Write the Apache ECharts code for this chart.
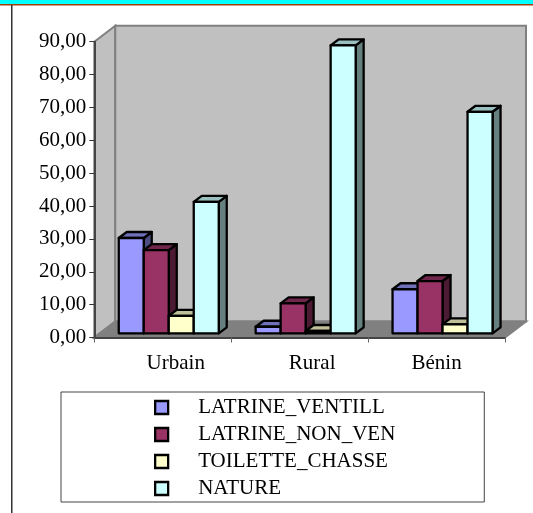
<!DOCTYPE html>
<html>
<head>
<meta charset="utf-8">
<style>
  html, body { margin: 0; padding: 0; background: #fff; }
  #chart { width: 533px; height: 513px; }
</style>
<script src="https://cdn.jsdelivr.net/npm/echarts@6/dist/echarts.min.js"></script>
</head>
<body>
<div id="chart"></div>
<script>
const categories = ['Urbain', 'Rural', 'Bénin']
const seriesNames = ['LATRINE_VENTILL', 'LATRINE_NON_VEN', 'TOILETTE_CHASSE', 'NATURE']
const latrineVentill = [29.0, 2.0, 13.4]
const latrineNonVen = [25.3, 9.1, 15.9]
const toiletteChasse = [5.3, 0.7, 2.7]
const nature = [40.0, 87.6, 67.4]
const seriesValues = [latrineVentill, latrineNonVen, toiletteChasse, nature]
const frontColors = ['#9999ff', '#993366', '#ffffcc', '#ccffff']
const topColors = ['#7070bb', '#70254b', '#bfbf99', '#99bfbf']
const sideColors = ['#4d4d80', '#4d1a33', '#808066', '#668080']

const barWidth = 25
// chart depth of the walls and of one bar, in pixels
const wall = { dx: 21, dy: 16 }
const bar = { dx: 8, dy: 6, x: 6, y: -4.2 }
// the labels are not centred on their bands in the original
const labelPadLeft = [26, 25, 0]

const chart = echarts.init(document.getElementById('chart'))

function renderWalls(params, api) {
  const g = params.coordSys
  const left = g.x
  const right = g.x + g.width
  const top = g.y
  const bottom = g.y + g.height
  const poly = (points, fill, stroke) => ({
    type: 'polygon',
    shape: { points: points },
    style: { fill: fill, stroke: stroke, lineWidth: 2 }
  })
  return {
    type: 'group',
    children: [
      poly([[left, top], [left + wall.dx, top - wall.dy], [left + wall.dx, bottom - wall.dy], [left, bottom]], '#c0c0c0', '#808080'),
      poly([[left + wall.dx, top - wall.dy], [right + wall.dx, top - wall.dy], [right + wall.dx, bottom - wall.dy], [left + wall.dx, bottom - wall.dy]], '#c0c0c0', '#808080'),
      poly([[left, bottom], [left + wall.dx, bottom - wall.dy], [right + wall.dx, bottom - wall.dy], [right, bottom]], '#808080', '#808080')
    ]
  }
}

function renderBar(index) {
  return function (params, api) {
    const top = api.coord([api.value(0), api.value(1)])
    const base = api.coord([api.value(0), 0])
    const x0 = top[0] + bar.x + (index - 2) * barWidth
    const x1 = x0 + barWidth
    const y0 = top[1] + bar.y
    const y1 = base[1] + bar.y
    const style = (fill) => ({ fill: fill, stroke: '#000', lineWidth: 2.3, lineJoin: 'round' })
    return {
      type: 'group',
      children: [
        {
          type: 'polygon',
          shape: { points: [[x1, y0], [x1 + bar.dx, y0 - bar.dy], [x1 + bar.dx, y1 - bar.dy], [x1, y1]] },
          style: style(sideColors[index])
        },
        {
          type: 'polygon',
          shape: { points: [[x0, y0], [x0 + bar.dx, y0 - bar.dy], [x1 + bar.dx, y0 - bar.dy], [x1, y0]] },
          style: style(topColors[index])
        },
        {
          type: 'rect',
          shape: { x: x0, y: y0, width: barWidth, height: y1 - y0 },
          style: style(frontColors[index])
        }
      ]
    }
  }
}

const barSeries = seriesNames.map((name, i) => ({
  name: name,
  type: 'custom',
  renderItem: renderBar(i),
  itemStyle: { color: frontColors[i] },
  encode: { x: 0, y: 1 },
  data: categories.map((c, j) => [c, seriesValues[i][j]])
}))

chart.setOption({
  animation: false,
  backgroundColor: '#fff',
  textStyle: { fontFamily: 'Liberation Serif' },
  graphic: [
    { type: 'rect', shape: { x: 0, y: 0, width: 533, height: 4 }, style: { fill: '#00ffff' } },
    { type: 'rect', shape: { x: 0, y: 4, width: 533, height: 1.5 }, style: { fill: '#a83c0c' } },
    { type: 'rect', shape: { x: 11, y: 5, width: 1.5, height: 508 }, style: { fill: '#333' } }
  ],
  grid: { left: 94.3, right: 28, top: 41.7, bottom: 175.5 },
  legend: {
    left: 61,
    top: 392,
    orient: 'vertical',
    data: seriesNames.map((name, i) => ({
      name: name,
      icon: 'rect',
      itemStyle: { color: frontColors[i], borderColor: '#000', borderWidth: 2.3 }
    })),
    itemWidth: 13,
    itemHeight: 13,
    itemGap: 4,
    padding: [4, 89, 2, 93],
    borderColor: '#444',
    borderWidth: 1,
    textStyle: { fontFamily: 'Liberation Serif', fontSize: 21, color: '#000', padding: [0, 0, 0, 25], lineHeight: 23 }
  },
  xAxis: {
    type: 'category',
    data: categories.map((c, i) => ({ value: c, textStyle: { padding: [0, 0, 0, labelPadLeft[i]] } })),
    axisLine: { show: true, lineStyle: { color: '#444', width: 2 } },
    axisTick: { show: true, length: 5, lineStyle: { color: '#666', width: 1 } },
    axisLabel: { interval: 0, margin: 15, fontSize: 21, color: '#000', fontFamily: 'Liberation Serif' }
  },
  yAxis: {
    type: 'value',
    min: 0,
    max: 90,
    interval: 10,
    splitLine: { show: false },
    axisLine: { show: true, lineStyle: { color: '#444', width: 2 } },
    axisTick: { show: true, length: 5, lineStyle: { color: '#333', width: 1 } },
    axisLabel: {
      margin: 8,
      padding: [5, 0, 0, 0],
      fontSize: 21,
      color: '#000',
      fontFamily: 'Liberation Serif',
      formatter: (v) => v.toFixed(2).replace('.', ',')
    }
  },
  series: [
    {
      name: 'walls',
      type: 'custom',
      z: -1,
      silent: true,
      renderItem: renderWalls,
      data: [[categories[0], 0]]
    }
  ].concat(barSeries)
})
</script>
</body>
</html>
